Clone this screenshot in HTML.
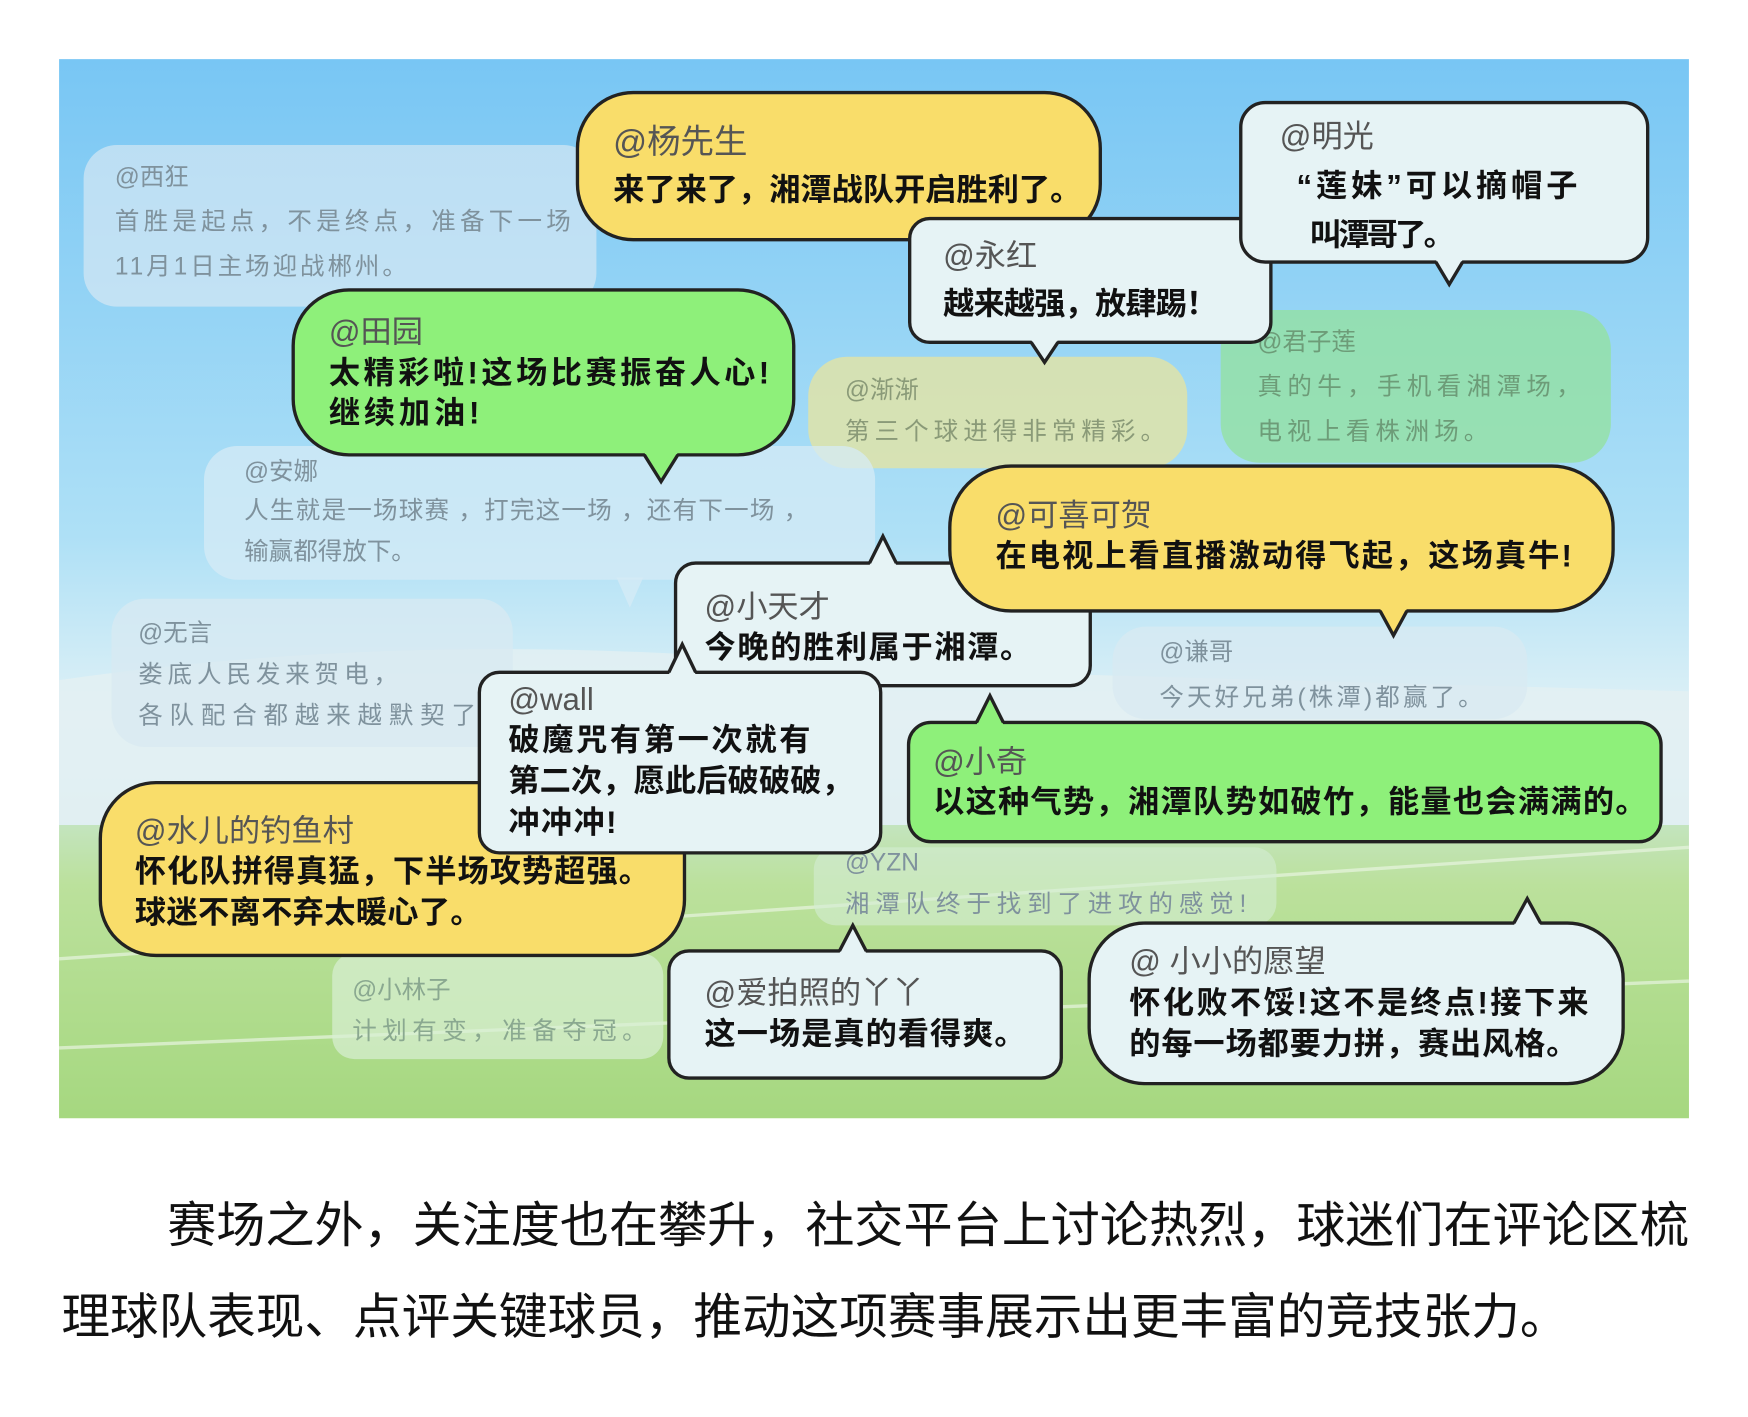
<!DOCTYPE html>
<html><head><meta charset="utf-8"><style>
html,body{margin:0;padding:0;background:#fff;}
svg{display:block}
text{font-family:"Liberation Sans","Noto Sans CJK SC",sans-serif;}
</style></head><body>
<svg width="1748" height="1417" viewBox="0 0 1568 1271" xmlns="http://www.w3.org/2000/svg">
<defs>
<linearGradient id="sky" x1="0" y1="0" x2="0" y2="1">
<stop offset="0" stop-color="#78c6f4"/><stop offset="0.45" stop-color="#aee0f6"/><stop offset="0.62" stop-color="#dff1f6"/><stop offset="0.72" stop-color="#d4ebf0"/><stop offset="0.78" stop-color="#c3e4a8"/><stop offset="1" stop-color="#98d270"/>
</linearGradient>
</defs>
<rect x="53" y="53" width="1462" height="950" fill="url(#sky)"/>
<path d="M53 610 Q400 560 780 600 L1515 620 L1515 740 L53 740 Z" fill="#e4f0f2" opacity="0.8"/>
<path d="M53 740 L1515 740 L1515 1003 L53 1003 Z" fill="#b4de90" opacity="0.5"/>
<path d="M53 860 L1515 760 M53 940 L1515 880" stroke="#e8f5e0" stroke-width="3" opacity="0.7"/>

<g>
<rect x="75" y="130" width="460" height="145" rx="30" fill="#dbeaf2" opacity="0.65"/>
<rect x="725" y="320" width="340" height="100" rx="35" fill="#dfe3a8" opacity="0.85"/>
<rect x="1095" y="278" width="350" height="137" rx="35" fill="#93e29c" opacity="0.75"/>
<rect x="183" y="400" width="602" height="120" rx="30" fill="#d5ebf5" opacity="0.75"/>
<polygon points="553,518 565,545 577,518" fill="#d5ebf5" opacity="0.75"/>
<rect x="100" y="537" width="360" height="133" rx="30" fill="#d8eaf2" opacity="0.75"/>
<rect x="998" y="562" width="372" height="83" rx="30" fill="#d8eaf2" opacity="0.75"/>
<rect x="730" y="760" width="415" height="70" rx="20" fill="#d4ecd4" opacity="0.6"/>
<rect x="298" y="855" width="297" height="95" rx="20" fill="#d8f0d4" opacity="0.7"/>
</g>

<g font-size="22" fill="#7f929d" lengthAdjust="spacingAndGlyphs">
<text x="103" y="166">@西狂</text>
<text x="103" y="206" textLength="409">首胜是起点，不是终点，准备下一场</text>
<text x="103" y="246" textLength="262">11月1日主场迎战郴州。</text>
<text x="758" y="357" fill="#8a9a78">@渐渐</text>
<text x="758" y="394" fill="#8a9a78" textLength="287">第三个球进得非常精彩。</text>
<text x="1128" y="314" fill="#6d9c78">@君子莲</text>
<text x="1128" y="354" fill="#6d9c78" textLength="290">真的牛，手机看湘潭场，</text>
<text x="1128" y="394" fill="#6d9c78" textLength="207">电视上看株洲场。</text>
<text x="219" y="430">@安娜</text>
<text x="219" y="465" textLength="506">人生就是一场球赛 ，打完这一场 ，还有下一场 ，</text>
<text x="219" y="502" textLength="154">输赢都得放下。</text>
<text x="124" y="575">@无言</text>
<text x="124" y="612" textLength="233">娄底人民发来贺电，</text>
<text x="124" y="649" textLength="303">各队配合都越来越默契了</text>
<text x="1040" y="592">@谦哥</text>
<text x="1040" y="633" textLength="290">今天好兄弟(株潭)都赢了。</text>
<text x="758" y="781">@YZN</text>
<text x="758" y="818" textLength="360">湘潭队终于找到了进攻的感觉!</text>
<text x="316" y="895" fill="#8aa890">@小林子</text>
<text x="316" y="932" fill="#8aa890" textLength="264">计划有变，准备夺冠。</text>
</g>

<g stroke="#222" stroke-width="3">
<rect x="518" y="83" width="469" height="132" rx="50" fill="#f9dd6a"/>
<rect x="816" y="196" width="324" height="111" rx="18" fill="#e6f3f5"/>
<polygon points="925,305 937,325 949,305" fill="#e6f3f5" stroke="none"/>
<polyline points="925,307 937,325 949,307" fill="none"/>
<rect x="1113" y="92" width="365" height="143" rx="22" fill="#e6f3f5"/>
<polygon points="1288,233 1300,255 1312,233" fill="#e6f3f5" stroke="none"/>
<polyline points="1288,235 1300,255 1312,235" fill="none"/>
<rect x="263" y="260" width="449" height="148" rx="50" fill="#8ef07a"/>
<polygon points="578,406 593,432 608,406" fill="#8ef07a" stroke="none"/>
<polyline points="578,408 593,432 608,408" fill="none"/>
<rect x="606" y="505" width="372" height="110" rx="18" fill="#e6f3f5"/>
<polygon points="780,507 792,481 804,507" fill="#e6f3f5" stroke="none"/>
<polyline points="780,505 792,481 804,505" fill="none"/>
<rect x="852" y="418" width="595" height="130" rx="55" fill="#f9dd6a"/>
<polygon points="1238,546 1250,570 1262,546" fill="#f9dd6a" stroke="none"/>
<polyline points="1238,548 1250,570 1262,548" fill="none"/>
<rect x="815" y="648" width="675" height="107" rx="20" fill="#8ef07a"/>
<polygon points="876,650 888,624 900,650" fill="#8ef07a" stroke="none"/>
<polyline points="876,648 888,624 900,648" fill="none"/>
<rect x="90" y="702" width="524" height="155" rx="50" fill="#f9dd6a"/>
<rect x="430" y="603" width="360" height="162" rx="18" fill="#e6f3f5"/>
<polygon points="600,605 612,578 624,605" fill="#e6f3f5" stroke="none"/>
<polyline points="600,603 612,578 624,603" fill="none"/>
<rect x="600" y="853" width="352" height="114" rx="18" fill="#e6f3f5"/>
<polygon points="753,855 765,830 777,855" fill="#e6f3f5" stroke="none"/>
<polyline points="753,853 765,830 777,853" fill="none"/>
<rect x="977" y="828" width="479" height="144" rx="50" fill="#e6f3f5"/>
<polygon points="1358,830 1370,806 1382,830" fill="#e6f3f5" stroke="none"/>
<polyline points="1358,828 1370,806 1382,828" fill="none"/>
</g>

<g font-size="28" fill="#111" font-weight="bold" lengthAdjust="spacingAndGlyphs">
<text x="550" y="137" fill="#555" font-weight="normal" font-size="30">@杨先生</text>
<text x="550" y="180" textLength="420">来了来了，湘潭战队开启胜利了。</text>
<text x="1148" y="132" fill="#555" font-weight="normal">@明光</text>
<text x="1163" y="176" textLength="252">“莲妹”可以摘帽子</text>
<text x="1175" y="220" textLength="130">叫潭哥了。</text>
<text x="846" y="239" fill="#555" font-weight="normal">@永红</text>
<text x="846" y="282" textLength="246">越来越强，放肆踢！</text>
<text x="295" y="307" fill="#555" font-weight="normal">@田园</text>
<text x="295" y="344" textLength="395">太精彩啦!这场比赛振奋人心!</text>
<text x="295" y="380" textLength="135">继续加油!</text>
<text x="893" y="472" fill="#555" font-weight="normal">@可喜可贺</text>
<text x="893" y="508" textLength="517">在电视上看直播激动得飞起，这场真牛!</text>
<text x="632" y="554" fill="#555" font-weight="normal">@小天才</text>
<text x="632" y="590" textLength="293">今晚的胜利属于湘潭。</text>
<text x="456" y="637" fill="#555" font-weight="normal">@wall</text>
<text x="456" y="673" textLength="271">破魔咒有第一次就有</text>
<text x="456" y="710" textLength="309">第二次，愿此后破破破，</text>
<text x="456" y="747" textLength="97">冲冲冲!</text>
<text x="837" y="693" fill="#555" font-weight="normal">@小奇</text>
<text x="837" y="729" textLength="640">以这种气势，湘潭队势如破竹，能量也会满满的。</text>
<text x="121" y="755" fill="#555" font-weight="normal">@水儿的钓鱼村</text>
<text x="121" y="791" textLength="462">怀化队拼得真猛，下半场攻势超强。</text>
<text x="121" y="828" textLength="311">球迷不离不弃太暖心了。</text>
<text x="632" y="900" fill="#555" font-weight="normal">@爱拍照的丫丫</text>
<text x="632" y="937" textLength="288">这一场是真的看得爽。</text>
<text x="1013" y="872" fill="#555" font-weight="normal">@ 小小的愿望</text>
<text x="1013" y="909" textLength="412">怀化败不馁!这不是终点!接下来</text>
<text x="1013" y="946" textLength="402">的每一场都要力拼，赛出风格。</text>
</g>

<g font-size="44" fill="#111">
<text x="150" y="1114" textLength="1365" lengthAdjust="spacingAndGlyphs">赛场之外，关注度也在攀升，社交平台上讨论热烈，球迷们在评论区梳</text>
<text x="55" y="1196" textLength="1352" lengthAdjust="spacingAndGlyphs">理球队表现、点评关键球员，推动这项赛事展示出更丰富的竞技张力。</text>
</g>
</svg>
</body></html>
